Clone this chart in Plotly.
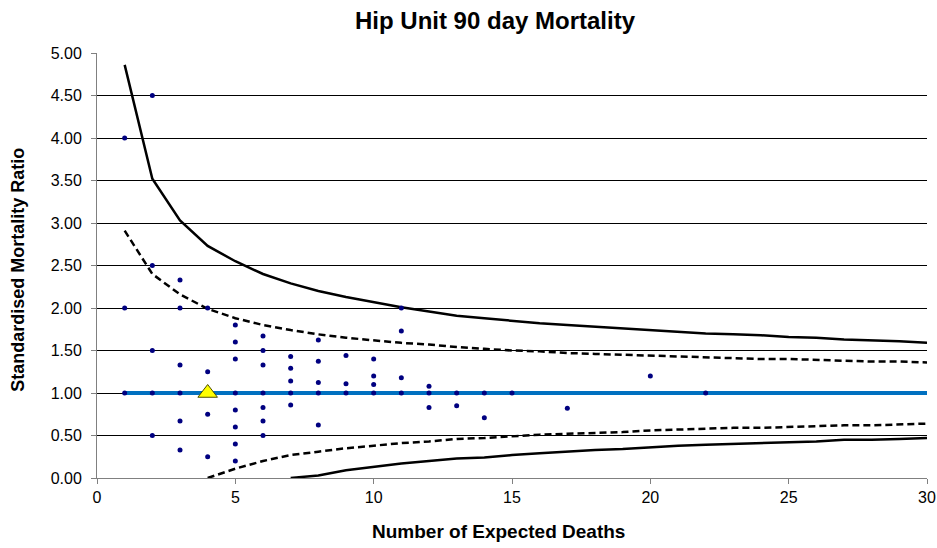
import plotly.graph_objects as go

# ── Data ──────────────────────────────────────────────────────────────────────
expected = list(range(1, 31))

upper_998 = [4.86, 3.52, 3.03, 2.73, 2.55, 2.40, 2.29, 2.20, 2.13, 2.07,
             2.01, 1.96, 1.91, 1.88, 1.85, 1.82, 1.80, 1.78, 1.76, 1.74,
             1.72, 1.70, 1.69, 1.68, 1.66, 1.65, 1.63, 1.62, 1.61, 1.59]
upper_95 = [2.91, 2.40, 2.16, 1.99, 1.88, 1.80, 1.74, 1.69, 1.65, 1.62,
            1.59, 1.57, 1.54, 1.52, 1.50, 1.49, 1.47, 1.46, 1.45, 1.44,
            1.43, 1.42, 1.41, 1.40, 1.40, 1.39, 1.38, 1.37, 1.37, 1.36]

lower_95_x = list(range(4, 31))
lower_95 = [0.00, 0.11, 0.20, 0.27, 0.31, 0.35, 0.38, 0.41, 0.43, 0.46,
            0.47, 0.49, 0.51, 0.52, 0.53, 0.54, 0.56, 0.57, 0.58, 0.59,
            0.59, 0.60, 0.61, 0.62, 0.62, 0.63, 0.64]
lower_998_x = list(range(7, 31))
lower_998 = [0.00, 0.03, 0.09, 0.13, 0.17, 0.20, 0.23, 0.24, 0.27, 0.29,
             0.31, 0.33, 0.34, 0.36, 0.38, 0.39, 0.40, 0.41, 0.42, 0.43,
             0.45, 0.45, 0.46, 0.47]

unit_x = [1, 1, 1,
          2, 2, 2, 2, 2,
          3, 3, 3, 3, 3, 3,
          4, 4, 4, 4, 4,
          5, 5, 5, 5, 5, 5, 5, 5,
          6, 6, 6, 6, 6, 6, 6,
          7, 7, 7, 7, 7,
          8, 8, 8, 8, 8,
          9, 9, 9,
          10, 10, 10, 10,
          11, 11, 11, 11,
          12, 12, 12,
          13, 13,
          14, 14,
          15, 17, 20, 22]
unit_smr = [4.0, 2.0, 1.0,
            4.5, 2.5, 1.5, 1.0, 0.5,
            2.33, 2.0, 1.33, 1.0, 0.67, 0.33,
            2.0, 1.25, 1.0, 0.75, 0.25,
            1.8, 1.6, 1.4, 1.0, 0.8, 0.6, 0.4, 0.2,
            1.67, 1.5, 1.33, 1.0, 0.83, 0.67, 0.5,
            1.43, 1.29, 1.14, 1.0, 0.86,
            1.625, 1.375, 1.125, 1.0, 0.625,
            1.44, 1.11, 1.0,
            1.4, 1.2, 1.1, 1.0,
            2.0, 1.73, 1.18, 1.0,
            1.08, 1.0, 0.83,
            1.0, 0.85,
            1.0, 0.71,
            1.0, 0.82, 1.2, 1.0]

hip_x = [4]
hip_smr = [1.0]

ref_x = [1, 30]
ref_y = [1.0, 1.0]

FONT = "Liberation Sans, Arial, sans-serif"
DASH = "7px,4px"

W, H = 937, 548
PLOT_L, PLOT_T, PLOT_W, PLOT_H = 97, 53, 830, 425

# ── Figure ────────────────────────────────────────────────────────────────────
fig = go.Figure()

fig.add_trace(go.Scatter(x=ref_x, y=ref_y, mode="lines",
                         line=dict(color="#0070C0", width=4)))
fig.add_trace(go.Scatter(x=expected, y=upper_998, mode="lines",
                         line=dict(color="black", width=2.5)))
fig.add_trace(go.Scatter(x=expected, y=upper_95, mode="lines",
                         line=dict(color="black", width=2.5, dash=DASH)))
fig.add_trace(go.Scatter(x=lower_95_x, y=lower_95, mode="lines",
                         line=dict(color="black", width=2.5, dash=DASH)))
fig.add_trace(go.Scatter(x=lower_998_x, y=lower_998, mode="lines",
                         line=dict(color="black", width=2.5)))
fig.add_trace(go.Scatter(x=unit_x, y=unit_smr, mode="markers",
                         marker=dict(color="#000080", size=5)))
fig.add_trace(go.Scatter(x=hip_x, y=hip_smr, mode="markers",
                         marker=dict(symbol="triangle-up", color="#FFFF00", size=17,
                                     line=dict(color="#4D4D00", width=1))))

fig.update_layout(
    title=dict(text="<b>Hip Unit 90 day Mortality</b>", xref="container", x=495 / W,
               xanchor="center", yref="container", y=1 - 21 / H, yanchor="middle",
               font=dict(size=24, color="black", family=FONT)),
    font=dict(family=FONT, size=16, color="black"),
    plot_bgcolor="white",
    paper_bgcolor="white",
    width=W, height=H,
    margin=dict(l=PLOT_L, r=W - PLOT_L - PLOT_W, t=PLOT_T, b=H - PLOT_T - PLOT_H,
                autoexpand=False),
    showlegend=False,
)

# axis titles placed as annotations so they sit where the original has them
fig.add_annotation(text="<b>Number of Expected Deaths</b>", xref="paper", yref="paper",
                   x=(498 - PLOT_L) / PLOT_W, y=-53 / PLOT_H, yanchor="middle",
                   showarrow=False, font=dict(size=19, family=FONT))
fig.add_annotation(text="<b>Standardised Mortality Ratio</b>", xref="paper", yref="paper",
                   x=-(PLOT_L - 18) / PLOT_W, y=0.49, textangle=-90,
                   xanchor="center", yanchor="middle",
                   showarrow=False, font=dict(size=18, family=FONT))

fig.update_xaxes(
    range=[0, 30], tick0=0, dtick=5, showgrid=False, zeroline=False,
    showline=True, linecolor="#808080", linewidth=1, automargin=False,
    ticks="outside", ticklen=5, tickcolor="#808080", ticklabelstandoff=0,
    ticklabeloverflow="allow",
)
fig.update_yaxes(
    range=[0, 5], tick0=0, dtick=0.5, tickformat=".2f",
    showgrid=True, gridcolor="black", gridwidth=1, zeroline=False,
    showline=True, linecolor="#808080", linewidth=1, automargin=False,
    ticks="outside", ticklen=5, tickcolor="#808080", ticklabelstandoff=6,
)

# drop the default page margin so the figure fills the window exactly
fig.write_html("out.html", config={"displayModeBar": False},
               post_script="document.body.style.margin='0';")
